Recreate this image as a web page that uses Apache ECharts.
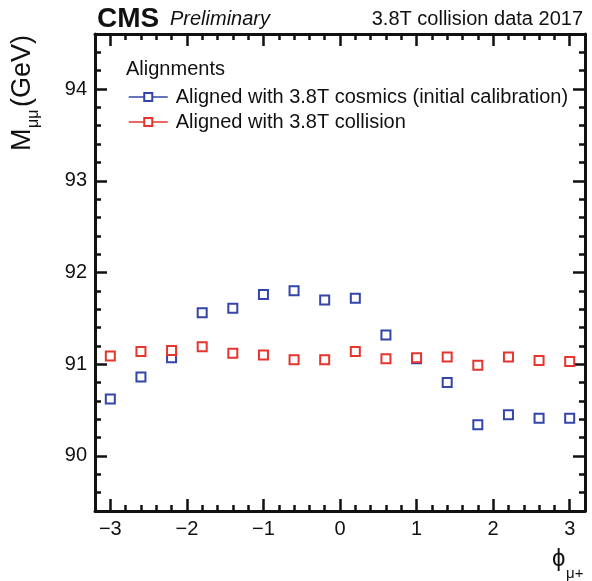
<!DOCTYPE html>
<html>
<head>
<meta charset="utf-8">
<script src="https://cdn.jsdelivr.net/npm/echarts@6/dist/echarts.min.js"></script>
<style>
  html, body { margin: 0; padding: 0; background: #fff; }
  #chart { width: 592px; height: 581px; }
</style>
</head>
<body>
<div id="chart"></div>
<script>
  // bin centres in phi(mu+)
  var phiCenters = [-3.0, -2.6, -2.2, -1.8, -1.4, -1.0, -0.6, -0.2, 0.2, 0.6, 1.0, 1.4, 1.8, 2.2, 2.6, 3.0];
  // dimuon mass, GeV
  var cosmicsMass = [90.62, 90.86, 91.07, 91.56, 91.61, 91.76, 91.80, 91.70, 91.72, 91.32, 91.06, 90.80, 90.34, 90.45, 90.41, 90.41];
  var collisionMass = [91.09, 91.14, 91.15, 91.19, 91.12, 91.10, 91.05, 91.05, 91.14, 91.06, 91.07, 91.08, 90.99, 91.08, 91.04, 91.03];
  var seriesNames = ['Aligned with 3.8T cosmics (initial calibration)', 'Aligned with 3.8T collision'];
  var xMajorTicks = [-3, -2, -1, 0, 1, 2, 3];
  var yMajorTicks = [90, 91, 92, 93, 94];

  var font = '"Liberation Sans", Arial, Helvetica, sans-serif';
  var ink = '#111';

  function pairs(ys) {
    return phiCenters.map(function (x, i) { return [x, ys[i]]; });
  }

  function minus(v) {
    return v < 0 ? '\u2212' + Math.abs(v) : String(v);
  }

  // major axis: long ticks + labels ; minor axis: short ticks only
  function xAxis(pos, labels) {
    return [{
      type: 'value', position: pos, min: -3.2, max: 3.2, gridIndex: 0,
      axisLine: { show: true, onZero: false, lineStyle: { color: ink, width: 3 } },
      axisTick: { show: true, inside: true, length: 12, customValues: xMajorTicks, lineStyle: { color: ink, width: 2.5 } },
      axisLabel: { show: labels, customValues: xMajorTicks, formatter: minus, color: ink, fontSize: 20, fontFamily: font, margin: 8 },
      splitLine: { show: false }
    }, {
      type: 'value', position: pos, min: -3.2, max: 3.2, interval: 0.2, gridIndex: 0,
      axisLine: { show: false, onZero: false },
      axisTick: { show: true, inside: true, length: 6, lineStyle: { color: ink, width: 2.5 } },
      axisLabel: { show: false },
      splitLine: { show: false }
    }];
  }

  function yAxis(pos, labels) {
    return [{
      type: 'value', position: pos, min: 89.4, max: 94.6, gridIndex: 0,
      axisLine: { show: true, onZero: false, lineStyle: { color: ink, width: 3 } },
      axisTick: { show: true, inside: true, length: 12, customValues: yMajorTicks, lineStyle: { color: ink, width: 2.5 } },
      axisLabel: { show: labels, customValues: yMajorTicks, color: ink, fontSize: 20, fontFamily: font, margin: 8 },
      splitLine: { show: false }
    }, {
      type: 'value', position: pos, min: 89.4, max: 94.6, interval: 0.2, gridIndex: 0,
      axisLine: { show: false, onZero: false },
      axisTick: { show: true, inside: true, length: 6, lineStyle: { color: ink, width: 2.5 } },
      axisLabel: { show: false },
      splitLine: { show: false }
    }];
  }

  function markerSeries(name, ys, color) {
    return {
      name: name,
      type: 'line',
      xAxisIndex: 0,
      yAxisIndex: 0,
      data: pairs(ys),
      symbol: 'emptyRect',
      symbolSize: 9,
      showSymbol: true,
      color: color,
      itemStyle: { color: color, borderColor: color, borderWidth: 1.3 },
      lineStyle: { opacity: 0 },
      emphasis: { disabled: true },
      animation: false,
      z: 5
    };
  }

  var chart = echarts.init(document.getElementById('chart'));

  var option = {
    backgroundColor: '#fff',
    animation: false,
    grid: { left: 95, right: 7, top: 34, bottom: 70, outerBoundsMode: 'none' },
    xAxis: xAxis('bottom', true).concat(xAxis('top', false)),
    yAxis: yAxis('left', true).concat(yAxis('right', false)),
    legend: {
      orient: 'vertical',
      left: 128,
      top: 87,
      padding: 0,
      itemWidth: 39,
      itemHeight: 10,
      itemGap: 5,
      selectedMode: false,
      textStyle: { color: ink, fontSize: 20, fontFamily: font, lineHeight: 20, padding: [0, 0, 0, 3] },
      lineStyle: { opacity: 1, width: 1.5 },
      data: seriesNames
    },
    series: [
      markerSeries(seriesNames[0], cosmicsMass, '#3344aa'),
      markerSeries(seriesNames[1], collisionMass, '#e5352d')
    ],
    graphic: [
      { type: 'text', left: 97, top: 5, style: { text: 'CMS', font: 'bold 28px ' + font, fill: ink } },
      { type: 'text', left: 170, top: 9, style: { text: 'Preliminary', font: 'italic 20px ' + font, fill: ink } },
      { type: 'text', right: 9, top: 9, style: { text: '3.8T collision data 2017', font: '20px ' + font, fill: ink } },
      { type: 'text', left: 126, top: 59, style: { text: 'Alignments', font: '20px ' + font, fill: ink } },
      {
        type: 'group', x: 23, y: 151, rotation: Math.PI / 2,
        children: [
          { type: 'text', x: 0, y: 0, style: { text: 'M', font: '27px ' + font, fill: ink, align: 'left', verticalAlign: 'middle' } },
          { type: 'text', x: 23, y: 11, style: { text: '\u03bc\u03bc', font: '16px ' + font, fill: ink, align: 'left', verticalAlign: 'middle' } },
          { type: 'text', x: 44, y: 0, style: { text: '(GeV)', font: '27px ' + font, fill: ink, align: 'left', verticalAlign: 'middle' } }
        ]
      },
      { type: 'text', x: 552, y: 547, style: { text: '\u03d5', font: '24px ' + font, fill: ink } },
      { type: 'text', x: 566, y: 566, style: { text: '\u03bc+', font: '15px ' + font, fill: ink } }
    ]
  };

  chart.setOption(option);
</script>
</body>
</html>
